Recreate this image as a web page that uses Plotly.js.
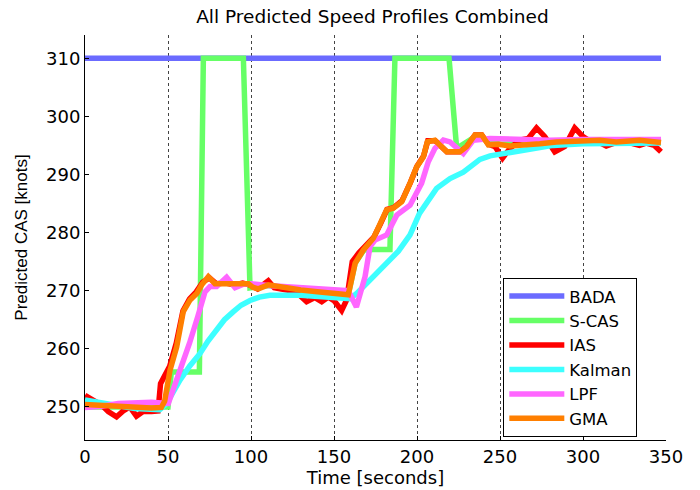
<!DOCTYPE html>
<html>
<head>
<meta charset="utf-8">
<script src="https://cdn.plot.ly/plotly-3.0.1.min.js"></script>
<style>html,body{margin:0;padding:0;background:#fff;}#chart{width:700px;height:490px;}</style>
</head>
<body>
<div id="chart"></div>
<script>
// Series names
var seriesNames = ["BADA", "S-CAS", "IAS", "Kalman", "LPF", "GMA"];
var xTicks = [0, 50, 100, 150, 200, 250, 300, 350];
var yTicks = [250, 260, 270, 280, 290, 300, 310];

// BADA
var badaT = [0, 347];
var badaV = [310, 310];

// S-CAS
var scasT = [0, 50, 52, 68.9, 71.3, 95.4, 99.4, 110, 130, 158.6, 162.7, 168, 173.5, 183.7, 186.7, 219.3, 223.9, 235, 250, 300, 347];
var scasV = [250, 250, 256, 256, 310, 310, 270.5, 270.9, 270.1, 269.3, 274.7, 277, 277.1, 277.1, 310, 310, 294.5, 296.5, 295.2, 295.7, 295.5];

// IAS
var iasT = [0, 4, 10, 14, 19, 23, 27, 31, 35, 40, 44, 45.5, 47.5, 51, 55, 59, 63, 67, 71, 75, 79, 85, 90, 95, 99, 104, 110.4, 114, 120, 127, 133.5, 138.5, 142.6, 146.6, 150, 154.6, 157.6, 161, 165, 170, 174, 178, 182, 186, 191, 196, 200, 204, 206.5, 211, 218, 226, 230, 235, 239, 243, 247, 251.5, 256, 262, 267, 272, 277, 283, 289, 295, 300, 304, 310, 314, 320, 324, 330, 334, 338, 343, 347];
var iasV = [252.0, 251.4, 250.3, 249.2, 248.3, 249.3, 250.0, 248.4, 249.2, 249.2, 249.3, 254.0, 255.3, 257.0, 261.0, 266.5, 268.6, 269.8, 271.5, 272.2, 271.2, 271.3, 271.0, 271.3, 271.0, 270.3, 271.7, 270.5, 270.2, 269.8, 268.1, 268.8, 268.1, 268.9, 268.3, 266.6, 268.4, 275.0, 276.5, 278.0, 279.2, 281.5, 284.0, 284.3, 285.5, 288.6, 291.4, 293.2, 295.8, 295.8, 293.9, 293.9, 294.8, 296.8, 296.8, 295.2, 294.8, 292.8, 294.5, 295.9, 296.2, 298.0, 296.5, 293.9, 294.8, 298.0, 296.5, 295.8, 295.5, 294.9, 295.5, 295.9, 295.3, 295.0, 295.4, 295.0, 293.9];

// Kalman
var kalT = [0, 10, 20, 30, 40, 45, 49.2, 57.2, 63, 69.3, 74, 79.3, 84, 89.4, 94, 99.4, 105, 111.4, 130, 145, 159.6, 164, 171.7, 179.7, 188.8, 195.8, 201.5, 211.8, 219.9, 227.9, 231.9, 237.9, 244, 252, 260, 268, 282, 300, 320, 347];
var kalV = [251.2, 250.8, 250.2, 249.7, 249.5, 249.5, 250.6, 254.6, 257.0, 259.2, 261.3, 263.2, 265.0, 266.4, 267.5, 268.3, 268.9, 269.2, 269.2, 268.9, 268.6, 269.6, 271.8, 274.2, 276.8, 279.6, 283.3, 287.6, 289.3, 290.4, 291.3, 292.6, 293.2, 293.6, 294.0, 294.5, 295.0, 295.3, 295.4, 295.4];

// LPF
var lpfT = [0, 10, 20, 30, 40, 50.2, 57, 63, 68, 72.3, 75.3, 79.3, 85.3, 90.4, 95.4, 100, 110, 120, 130, 140, 150, 158.6, 163.5, 168.7, 171.7, 174.7, 181.7, 187.8, 195.8, 202.8, 206.8, 210.8, 215.9, 219.9, 227.9, 233.9, 244, 260, 280, 300, 320, 347];
var lpfV = [249.9, 250.1, 250.6, 250.8, 250.8, 250.6, 255.8, 261.0, 265.6, 269.8, 270.7, 270.7, 272.3, 270.5, 271.1, 271.2, 270.9, 270.7, 270.5, 270.3, 270.1, 270.0, 267.2, 272.4, 277.6, 278.7, 279.6, 283.0, 284.7, 288.5, 292.2, 294.5, 295.9, 295.6, 293.6, 295.9, 296.2, 296.0, 295.9, 296.0, 296.1, 296.0];

// GMA
var gmaT = [0, 10, 20, 30, 40, 46, 48, 51.2, 55.2, 59.2, 63.3, 67.3, 70.3, 74.3, 78.3, 90, 98.4, 101, 104.4, 110.4, 120, 130, 140, 150, 158.6, 162.7, 167.7, 173.7, 181.7, 185.7, 190.8, 195.8, 199.8, 203.8, 206.2, 210.8, 217.9, 225.9, 229.9, 234.9, 239, 243, 249, 256, 264, 274, 284, 295, 310, 320, 334, 347];
var gmaV = [250.4, 250.2, 250.2, 250.0, 249.8, 249.9, 251.0, 256.3, 260.3, 266.4, 268.4, 269.5, 271.0, 272.4, 271.2, 271.2, 271.2, 270.6, 270.3, 271.0, 270.5, 270.1, 269.8, 269.6, 269.3, 274.7, 277.0, 279.0, 283.9, 284.2, 285.3, 288.5, 291.3, 293.0, 295.6, 295.9, 293.9, 293.9, 294.8, 296.8, 296.8, 295.1, 295.2, 294.9, 295.0, 295.3, 295.6, 295.7, 295.9, 295.6, 295.9, 295.5];

var colors = ["#6b6bff", "#66ff66", "#ff0000", "#3dffff", "#ff66ff", "#ff7f00"];
var xs = [badaT, scasT, iasT, kalT, lpfT, gmaT];
var ys = [badaV, scasV, iasV, kalV, lpfV, gmaV];

var traces = seriesNames.map(function (n, i) {
  return {
    x: xs[i], y: ys[i], name: n, type: "scatter", mode: "lines",
    line: { color: colors[i], width: 5.5 }
  };
});

var WIDE = "DejaVu Sans, sans-serif";
var NARROW = "Liberation Sans, Arial, sans-serif";
var layout = {
  width: 700, height: 490,
  margin: { l: 85, r: 34, t: 35, b: 50 },
  paper_bgcolor: "#fff", plot_bgcolor: "#fff",
  font: { family: WIDE, size: 18, color: "#000" },
  title: { text: "All Predicted Speed Profiles Combined", font: { size: 18.5, family: WIDE }, x: 0.532, xanchor: "center", y: 0.966, yanchor: "middle", yref: "container" },
  xaxis: {
    range: [0, 350], tickvals: xTicks, ticktext: xTicks.map(String),
    showgrid: true, gridcolor: "#444", griddash: "dot", gridwidth: 1,
    zeroline: false, showline: true, linecolor: "#000", linewidth: 1,
    ticks: "inside", ticklen: 4, tickcolor: "#000",
    tickfont: { size: 18, family: WIDE },
    title: { text: "Time [seconds]", font: { size: 18, family: WIDE }, standoff: 2 }
  },
  yaxis: {
    range: [244.3, 314], tickvals: yTicks, ticktext: yTicks.map(String),
    showgrid: false, zeroline: false, showline: true, linecolor: "#000", linewidth: 1,
    ticks: "inside", ticklen: 4, tickcolor: "#000",
    tickfont: { size: 18, family: WIDE },
    title: { text: "Predicted CAS [knots]", font: { size: 17, family: NARROW }, standoff: 14 }
  },
  showlegend: true,
  legend: {
    x: 0.72, xanchor: "left", y: 0.204, yanchor: "middle",
    bgcolor: "#fff", bordercolor: "#000", borderwidth: 1,
    font: { size: 16.5, family: WIDE }, tracegroupgap: 0, itemwidth: 55
  }
};

Plotly.newPlot("chart", traces, layout, { displayModeBar: false, staticPlot: true });
</script>
</body>
</html>
